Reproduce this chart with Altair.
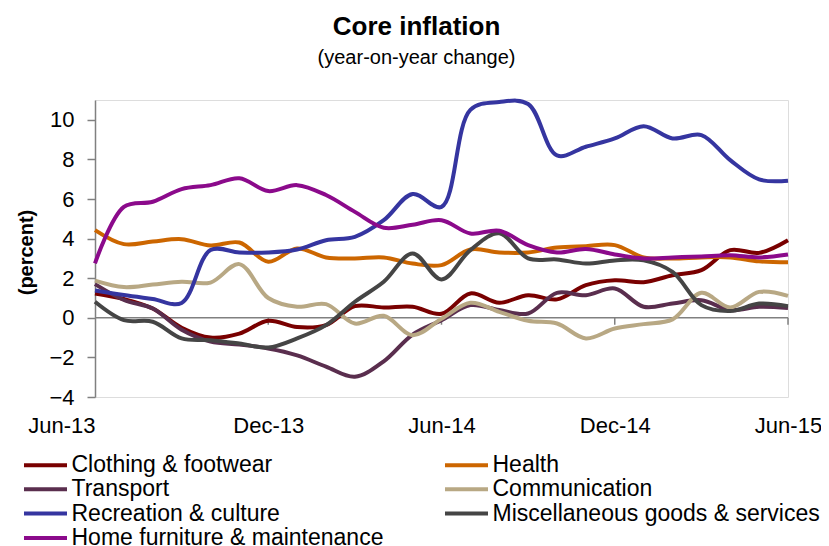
import altair as alt
import pandas as pd

months = ["Jun-13", "Jul-13", "Aug-13", "Sep-13", "Oct-13", "Nov-13", "Dec-13",
          "Jan-14", "Feb-14", "Mar-14", "Apr-14", "May-14", "Jun-14", "Jul-14",
          "Aug-14", "Sep-14", "Oct-14", "Nov-14", "Dec-14", "Jan-15", "Feb-15",
          "Mar-15", "Apr-15", "May-15", "Jun-15"]
label_months = ["Jun-13", "Dec-13", "Jun-14", "Dec-14", "Jun-15"]
tick_months = ["Dec-13", "Jun-14", "Dec-14", "Jun-15"]

clothing = [1.23, 0.95, 0.47, -0.5, -1.0, -0.8, -0.15, -0.47, -0.37, 0.59, 0.52, 0.56, 0.2,
            1.23, 0.76, 1.14, 0.93, 1.65, 1.9, 1.8, 2.15, 2.41, 3.42, 3.28, 3.92]
health = [4.43, 3.72, 3.85, 3.97, 3.65, 3.8, 2.83, 3.5, 3.05, 3.0, 3.05, 2.74, 2.66,
          3.45, 3.3, 3.3, 3.55, 3.62, 3.67, 3.05, 3.0, 3.05, 3.05, 2.85, 2.8]
transport = [1.7, 0.9, 0.47, -0.6, -1.2, -1.35, -1.55, -1.9, -2.47, -2.98, -2.2, -0.85, -0.12,
             0.64, 0.39, 0.22, 1.26, 1.14, 1.48, 0.56, 0.72, 0.89, 0.39, 0.56, 0.5]
communication = [1.88, 1.55, 1.68, 1.82, 1.78, 2.71, 1.0, 0.56, 0.69, -0.29, 0.1, -0.88, -0.05,
                 0.76, 0.3, -0.15, -0.29, -1.04, -0.54, -0.32, -0.08, 1.26, 0.52, 1.31, 1.11]
recreation = [1.38, 1.15, 0.95, 0.75, 3.42, 3.3, 3.3, 3.45, 3.92, 4.09, 4.93, 6.25, 5.6,
              10.5, 10.9, 10.8, 8.2, 8.64, 9.06, 9.68, 9.06, 9.23, 7.96, 6.99, 6.92]
misc = [0.81, -0.12, -0.2, -1.04, -1.13, -1.3, -1.5, -1.04, -0.37, 0.81, 1.82, 3.25, 1.94,
        3.42, 4.27, 3.0, 2.95, 2.74, 2.9, 2.9, 2.32, 0.64, 0.34, 0.72, 0.59]
home = [2.75, 5.6, 5.86, 6.5, 6.7, 7.05, 6.4, 6.7, 6.2, 5.35, 4.55, 4.7, 4.93,
        4.26, 4.4, 3.67, 3.3, 3.48, 3.2, 3.0, 3.05, 3.1, 3.16, 3.05, 3.2]

series_names = ["Clothing & footwear", "Health", "Transport", "Communication",
                "Recreation & culture", "Miscellaneous goods & services",
                "Home furniture & maintenance"]
series_values = [clothing, health, transport, communication, recreation, misc, home]
series_colors = ["#790000", "#CC6600", "#5A2E4E", "#B8A884", "#3535A0", "#454545", "#8B0A8B"]

rows = []
for name, vals in zip(series_names, series_values):
    for m, v in zip(months, vals):
        rows.append({"month": m, "series": name, "value": v})
df = pd.DataFrame(rows)

zero_df = pd.DataFrame({"value": [0]})
tick_df = pd.DataFrame({"month": tick_months, "value": [0] * len(tick_months),
                        "value2": [-0.35] * len(tick_months)})

FONT = "Liberation Sans"
GRAY = "#808080"

x_scale = alt.Scale(type="point", padding=0, domain=months)
x_axis = alt.Axis(values=label_months, title=None, domain=False, ticks=False, tickSize=0,
                  labelFontSize=22, labelFont=FONT, labelColor="black", labelPadding=18,
                  labelAngle=0, grid=False,
                  labelAlign={"condition": {"test": "datum.value === 'Jun-13'", "value": "right"},
                              "value": "center"})
y_scale = alt.Scale(domain=[-4, 11], nice=False, zero=False)
y_axis = alt.Axis(values=[-4, -2, 0, 2, 4, 6, 8, 10], title="(percent)", titleFontSize=20,
                  titleFont=FONT, titleFontWeight="bold", titleColor="black",
                  titleX=-69, titleY=152, titleAlign="center", titleBaseline="middle",
                  labelFontSize=22, labelFont=FONT, labelColor="black", labelPadding=13,
                  tickSize=8, tickColor=GRAY, tickWidth=1.5, domainColor=GRAY, domainWidth=1.5,
                  grid=False)

X = alt.X("month:O", scale=x_scale, axis=x_axis)
Y = alt.Y("value:Q", scale=y_scale, axis=y_axis)

lines = alt.Chart(df).mark_line(strokeWidth=4, interpolate="catmull-rom").encode(
    x=X, y=Y,
    color=alt.Color("series:N", sort=series_names,
                    scale=alt.Scale(domain=series_names, range=series_colors),
                    legend=alt.Legend(orient="none", legendX=-61, legendY=353.5, columns=2,
                                      direction="horizontal",
                                      title=None, symbolType="M-4,0H4", symbolSize=115.6,
                                      symbolStrokeWidth=4, labelFontSize=23, labelFont=FONT,
                                      labelColor="black", labelOffset=14.5, labelLimit=500,
                                      rowPadding=0.3, columnPadding=52, padding=0)),
)

zero_rule = alt.Chart(zero_df).mark_rule(color=GRAY, strokeWidth=1.5).encode(y=Y)
ticks = alt.Chart(tick_df).mark_rule(color=GRAY, strokeWidth=1.5).encode(
    x=X, y=Y, y2=alt.Y2("value2:Q"))

chart = alt.layer(zero_rule, ticks, lines).properties(
    width=693, height=297,
    autosize=alt.AutoSizeParams(type="none"),
    padding={"left": 87, "top": 92, "right": 33, "bottom": 149},
    title=alt.TitleParams("Core inflation", subtitle="(year-on-year change)", font=FONT,
                          fontSize=26, fontWeight="bold", color="black",
                          subtitleFont=FONT, subtitleFontSize=20, subtitleColor="black",
                          subtitlePadding=8, anchor="middle", dx=-25, offset=25),
).configure_view(stroke=None).configure(background="white")

chart.save("out.html", embed_options={"renderer": "svg", "actions": False})
